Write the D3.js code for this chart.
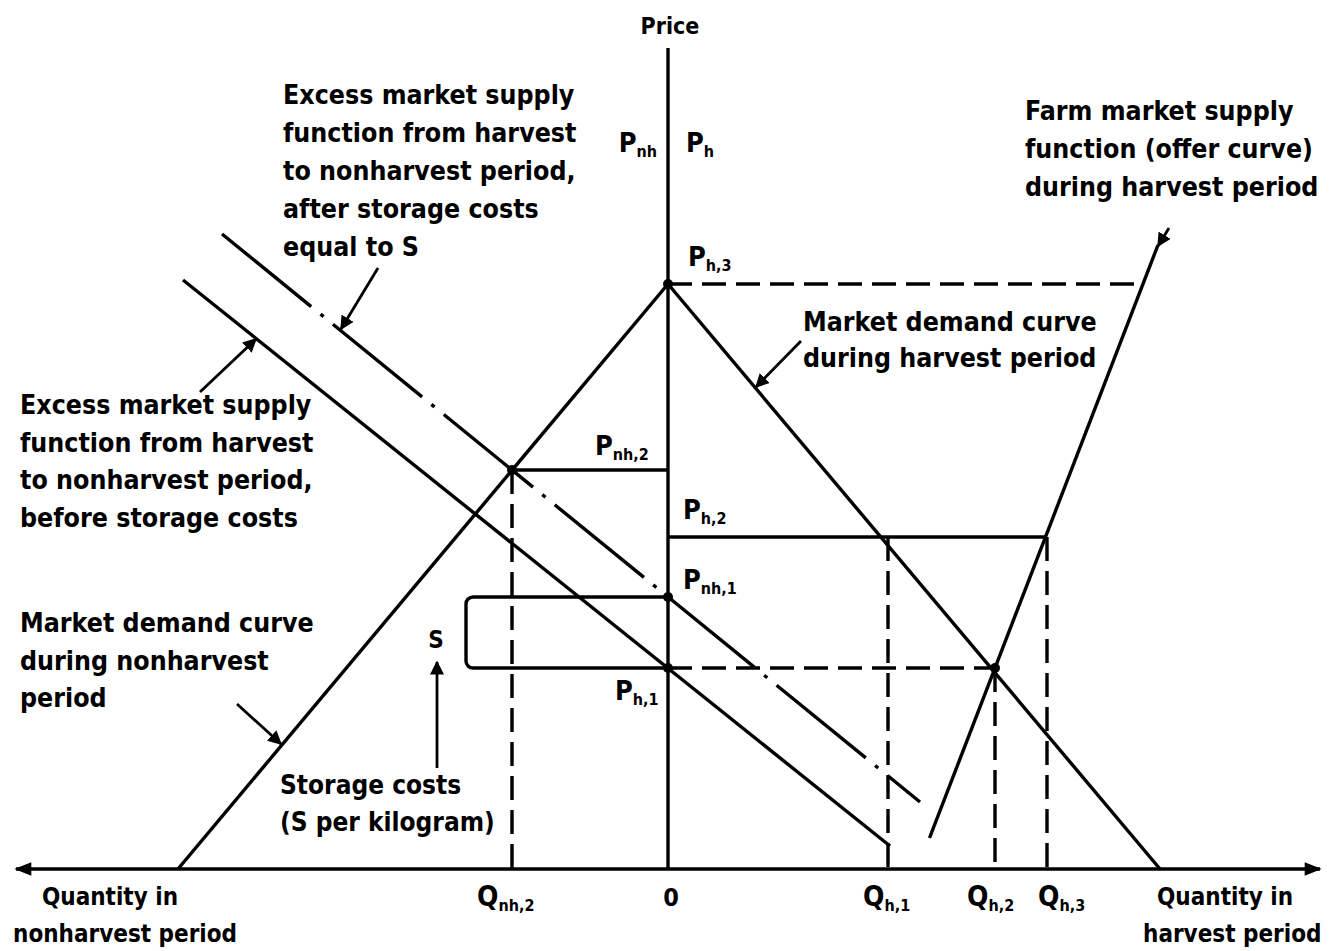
<!DOCTYPE html>
<html><head><meta charset="utf-8">
<script src="https://cdn.jsdelivr.net/npm/d3@7/dist/d3.min.js"></script>
<style>
html,body{margin:0;padding:0;background:#fff;}
svg text{font-family:"DejaVu Sans Condensed","DejaVu Sans",sans-serif;font-weight:bold;fill:#000;}
</style></head>
<body><svg id="c" width="1330" height="951"></svg>
<script>
// ---- data (quantity q, price p) ----
const qRange = [-65.5, 65.5];
const pRange = [0, 82.1];
const priceNames = ["h,3", "nh,2", "h,2", "nh,1", "h,1"];
const priceValues = [58.5, 39.9, 33.2, 27.2, 20.1];
const qtyNames = ["nh,2", "h,1", "h,2", "h,3"];
const qtyValues = [-15.6, 22.0, 32.7, 37.9];
const demandNonharvest = [[-49.0, 0], [0, 58.5]];
const demandHarvest = [[0, 58.5], [49.2, 0]];
const excessSupplyBefore = [[-48.5, 58.9], [22.2, 2.3]];
const excessSupplyAfter = [[-44.6, 63.5], [25.2, 6.7]];
const farmSupplyHarvest = [[26.15, 3.1], [49.0, 62.4]];
const priceH3DashEnd = 47.5;
const storageBracketQ = -20.2;

const P = {}; priceNames.forEach((n, i) => P[n] = priceValues[i]);
const Q = {}; qtyNames.forEach((n, i) => Q[n] = qtyValues[i]);

const svg = d3.select("#c");
const x = d3.scaleLinear().domain(qRange).range([13, 1323]);
const y = d3.scaleLinear().domain(pRange).range([869, 48]);
const line = d3.line().x(d => x(d[0])).y(d => y(d[1]));

const defs = svg.append("defs");
defs.append("marker").attr("id", "ah").attr("viewBox", "0 0 10 10").attr("refX", 9).attr("refY", 5)
  .attr("markerWidth", 5).attr("markerHeight", 5).attr("orient", "auto-start-reverse")
  .append("path").attr("d", "M0,0 L10,5 L0,10 Z").attr("fill", "#000");
defs.append("marker").attr("id", "ax").attr("viewBox", "0 0 10 10").attr("refX", 9).attr("refY", 5)
  .attr("markerWidth", 6).attr("markerHeight", 5).attr("orient", "auto-start-reverse")
  .append("path").attr("d", "M0,1 L10,5 L0,9 Z").attr("fill", "#000");

const g = svg.append("g").attr("fill", "none").attr("stroke", "#000").attr("stroke-width", 3.4);

// axes
g.append("path").attr("d", line([[qRange[0] + 0.3, 0], [qRange[1] - 0.3, 0]]))
  .attr("marker-start", "url(#ax)").attr("marker-end", "url(#ax)");
g.append("path").attr("d", line([[0, 0], [0, pRange[1]]]));

// curves
g.append("path").attr("d", line(demandNonharvest));
g.append("path").attr("d", line(demandHarvest));
g.append("path").attr("d", line(excessSupplyBefore));
g.append("path").attr("d", line(excessSupplyAfter)).attr("stroke-dasharray", "115,12,4,12");
g.append("path").attr("d", line(farmSupplyHarvest));

// price / quantity guide lines
const dash = "24,10";
g.append("path").attr("d", line([[0, P["h,3"]], [priceH3DashEnd, P["h,3"]]])).attr("stroke-dasharray", dash);
g.append("path").attr("d", line([[Q["nh,2"], P["nh,2"]], [0, P["nh,2"]]]));
g.append("path").attr("d", line([[Q["nh,2"], P["nh,2"]], [Q["nh,2"], 0]])).attr("stroke-dasharray", dash);
g.append("path").attr("d", line([[0, P["h,2"]], [Q["h,3"], P["h,2"]]]));
g.append("path").attr("d", line([[Q["h,1"], P["h,2"]], [Q["h,1"], 0]])).attr("stroke-dasharray", dash);
g.append("path").attr("d", line([[Q["h,3"], P["h,2"]], [Q["h,3"], 0]])).attr("stroke-dasharray", dash);
g.append("path").attr("d", line([[0, P["h,1"]], [Q["h,2"], P["h,1"]]])).attr("stroke-dasharray", dash);
g.append("path").attr("d", line([[Q["h,2"], P["h,1"]], [Q["h,2"], 0]])).attr("stroke-dasharray", dash);

// storage-cost bracket
const bp = d3.path(), r = 7;
bp.moveTo(x(0), y(P["nh,1"]));
bp.arcTo(x(storageBracketQ), y(P["nh,1"]), x(storageBracketQ), y(P["h,1"]), r);
bp.arcTo(x(storageBracketQ), y(P["h,1"]), x(0), y(P["h,1"]), r);
bp.lineTo(x(0), y(P["h,1"]));
g.append("path").attr("d", bp.toString());

// intersection dots
const dots = [[0, P["h,3"]], [Q["nh,2"], P["nh,2"]], [0, P["h,1"]], [Q["h,2"], P["h,1"]], [0, P["nh,1"]]];
svg.selectAll("circle.d").data(dots).enter().append("circle")
  .attr("cx", d => x(d[0])).attr("cy", d => y(d[1])).attr("r", 5).attr("fill", "#000");

// annotation arrows (pixel layout)
const arrows = [
  [[378, 268], [341, 329]],
  [[200, 392], [256, 339]],
  [[801, 341], [756, 387]],
  [[237, 704], [281, 744]],
  [[1169, 228], [1158, 246]],
  [[437, 768], [437, 662]]
];
arrows.forEach(a => g.append("path").attr("d", d3.line()(a)).attr("stroke-width", 2.8).attr("marker-end", "url(#ah)"));

// text
function block(lines, x0, y0, lh, size, anchor) {
  const t = svg.append("text").attr("font-size", size).attr("text-anchor", anchor || "start");
  lines.forEach((s, i) => t.append("tspan").attr("x", x0).attr("y", y0 + i * lh).text(s));
}
block(["Excess market supply", "function from harvest", "to nonharvest period,", "after storage costs", "equal to S"], 283, 104, 38, 26.5);
block(["Farm market supply", "function (offer curve)", "during harvest period"], 1025, 120, 38, 26.5);
block(["Market demand curve", "during harvest period"], 803, 331, 36, 26.5);
block(["Excess market supply", "function from harvest", "to nonharvest period,", "before storage costs"], 20, 414, 37.5, 26.5);
block(["Market demand curve", "during nonharvest", "period"], 20, 632, 37.5, 26.5);
block(["Storage costs", "(S per kilogram)"], 280, 794, 37, 26);
block(["Quantity in"], 110, 905, 35, 24, "middle");
block(["nonharvest period"], 13, 942, 35, 24);
block(["Quantity in"], 1157, 905, 35, 24);
block(["harvest period"], 1143, 942, 35, 24);
block(["Price"], 670, 34, 30, 23, "middle");
block(["S"], 436, 648, 30, 24, "middle");
block(["0"], 671, 906, 30, 25, "middle");

function sub(main, s, x0, y0, anchor, big) {
  const t = svg.append("text").attr("x", x0).attr("y", y0).attr("font-size", big || 27).attr("text-anchor", anchor || "start");
  t.append("tspan").text(main);
  t.append("tspan").attr("font-size", 16).attr("dy", 5).text(s);
}
sub("P", "nh", 657, 152, "end");
sub("P", "h", 686, 152);
sub("P", "h," + "3", 688, 266);
sub("P", "nh,2", 595, 455);
sub("P", "h,2", 683, 519);
sub("P", "nh,1", 683, 589);
sub("P", "h,1", 615, 700);
qtyNames.forEach((n, i) => {
  const xs = {"nh,2": 477, "h,1": 863, "h,2": 967, "h,3": 1038}[n];
  sub("Q", n, xs, 906, "start", 28);
});
</script></body></html>
